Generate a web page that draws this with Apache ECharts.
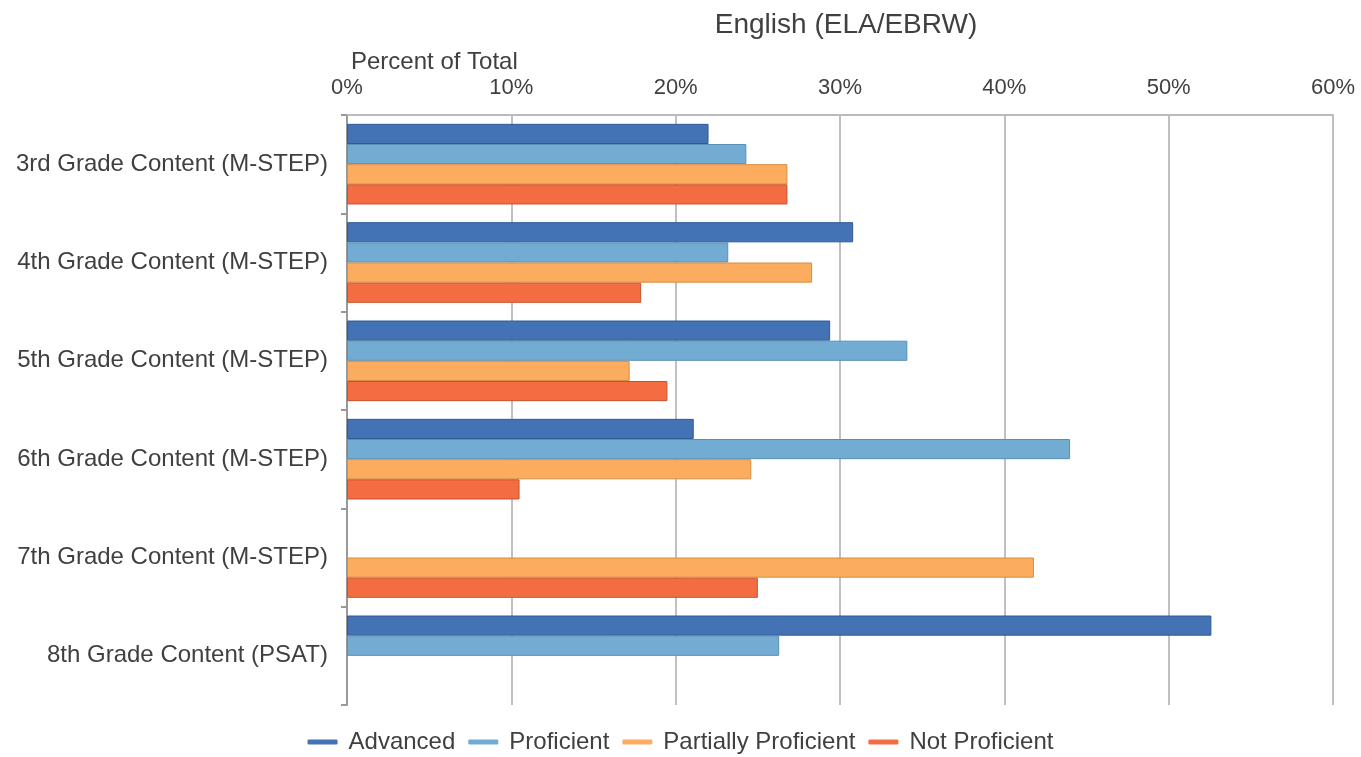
<!DOCTYPE html>
<html>
<head>
<meta charset="utf-8">
<script src="https://cdn.jsdelivr.net/npm/echarts@6/dist/echarts.min.js"></script>
<style>html,body{margin:0;padding:0;background:#fff;}#c{width:1361px;height:757px;}</style>
</head>
<body>
<div id="c"></div>
<script>
const categories = ["3rd Grade Content (M-STEP)", "4th Grade Content (M-STEP)", "5th Grade Content (M-STEP)", "6th Grade Content (M-STEP)", "7th Grade Content (M-STEP)", "8th Grade Content (PSAT)"];
const advanced = [22.0, 30.8, 29.4, 21.1, null, 52.6];
const proficient = [24.3, 23.2, 34.1, 44.0, null, 26.3];
const partiallyProficient = [26.8, 28.3, 17.2, 24.6, 41.8, null];
const notProficient = [26.8, 17.9, 19.5, 10.5, 25.0, null];
const seriesNames = ["Advanced", "Proficient", "Partially Proficient", "Not Proficient"];
const xTicks = [0, 10, 20, 30, 40, 50, 60];

const colors = ["#4473b5", "#73acd2", "#fcac5e", "#f36c42"];
const borders = ["#2f5a94", "#5a8fb5", "#d98c45", "#c9522d"];
const dataSets = [advanced, proficient, partiallyProficient, notProficient];
const FF = 'Liberation Sans, Arial, sans-serif';
const TC = '#404040';

const chart = echarts.init(document.getElementById('c'));
chart.setOption({
  animation: false,
  textStyle: { fontFamily: FF },
  title: [
    { text: 'English (ELA/EBRW)', left: 841, top: 6, textAlign: 'center',
      textStyle: { fontSize: 28, fontWeight: 'normal', color: TC, fontFamily: FF } },
    { text: 'Percent of Total', left: 346, top: 45,
      textStyle: { fontSize: 24, fontWeight: 'normal', color: TC, fontFamily: FF } }
  ],
  legend: {
    top: 725, left: 'center',
    icon: 'roundRect', itemWidth: 30, itemHeight: 5, itemGap: 13,
    itemStyle: { borderWidth: 0 },
    textStyle: { fontSize: 24, color: TC, padding: [0, 0, 0, 6] },
    data: seriesNames
  },
  grid: { left: 347, right: 28, top: 115, bottom: 52 },
  xAxis: {
    type: 'value', position: 'top', min: 0, max: 60, interval: 10,
    axisLabel: { formatter: v => xTicks.includes(v) ? v + '%' : '', fontSize: 22, color: TC, margin: 16 },
    axisLine: { show: true, lineStyle: { color: '#bbb', width: 2 } },
    axisTick: { show: false },
    splitLine: { show: true, lineStyle: { color: '#c0c0c0', width: 2 } }
  },
  yAxis: {
    type: 'category', inverse: true, data: categories,
    axisLabel: { fontSize: 24, color: TC, margin: 19 },
    axisLine: { show: true, lineStyle: { color: '#999', width: 2 } },
    axisTick: { show: true, length: 6, lineStyle: { color: '#999', width: 2 } }
  },
  series: dataSets.map((d, i) => ({
    name: seriesNames[i], type: 'bar', data: d,
    barGap: '0%', barCategoryGap: '18%',
    itemStyle: { color: colors[i], borderColor: borders[i], borderWidth: 1 }
  }))
});
</script>
</body>
</html>
